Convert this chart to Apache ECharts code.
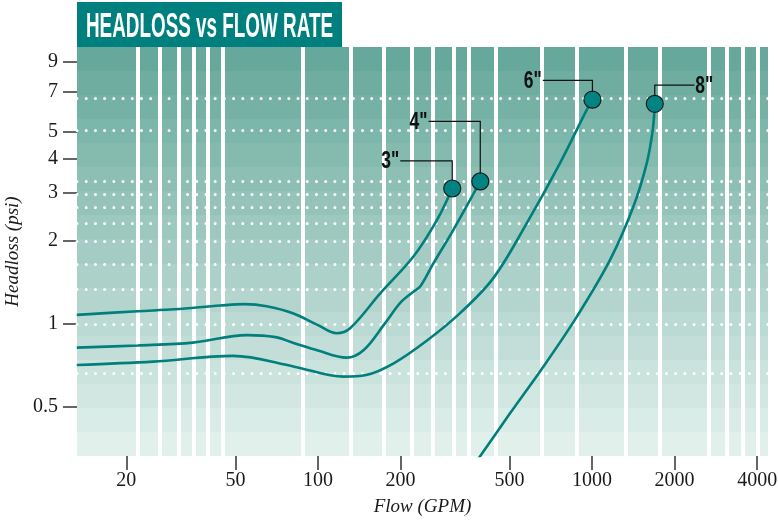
<!DOCTYPE html>
<html><head><meta charset="utf-8">
<script src="https://cdn.jsdelivr.net/npm/echarts@6.0.0/dist/echarts.min.js"></script>
<style>html,body{margin:0;padding:0;background:#fff}#main{width:778px;height:523px}</style>
</head><body><div id="main"></div>
<script>
// ---------- data ----------
const pipeSizes = ['3"', '4"', '6"', '8"'];

const flow3 = [13.2, 22, 30, 44, 54, 65, 81, 100, 117, 131, 169, 223, 272, 309];
const head3 = [1.078, 1.112, 1.13, 1.166, 1.18, 1.16, 1.094, 0.99, 0.925, 0.964, 1.293, 1.757, 2.389, 3.106];

const flow4 = [13.2, 22, 35, 55, 70, 82, 100, 127, 147, 175, 200, 223, 236, 264, 312, 391];
const head4 = [0.820, 0.835, 0.855, 0.910, 0.895, 0.851, 0.80, 0.754, 0.804, 1.0, 1.195, 1.31, 1.367, 1.663, 2.198, 3.294];

const flow6 = [13.2, 25, 49, 82, 124, 150, 189, 250, 330, 437, 578, 764, 957, 1003];
const head6 = [0.709, 0.729, 0.765, 0.699, 0.643, 0.652, 0.719, 0.87, 1.094, 1.47, 2.325, 3.842, 6.005, 6.53];

const flow8 = [370, 391, 502, 664, 880, 1163, 1415, 1583, 1665, 1693];
const head8 = [0.306, 0.331, 0.473, 0.699, 1.063, 1.709, 2.671, 3.842, 5.08, 6.31];

const xTickValues = [20, 50, 100, 200, 500, 1000, 2000, 4000];
const yTickValues = [0.5, 1, 2, 3, 4, 5, 7, 9];

const whiteGridFlows = [22.1, 26.5, 31.0, 35.2, 39.6, 45.1, 88.4, 131.7, 174.2, 220.7, 263.2, 313.1, 355.2, 444.1, 657.2, 876.6, 1322, 1770, 2663, 3106, 3552, 4006];
const dottedGridHeads = [6.6, 5.04, 3.305, 2.963, 2.649, 2.325, 1.988, 1.649, 1.344, 1.0, 0.656];

const xRange = [13.22, 4382];
const yRange = [0.331, 10.15];

const titleText = 'HEADLOSS vs FLOW RATE';
const xName = 'Flow (GPM)';
const yName = 'Headloss (psi)';

// ---------- chart ----------
const TEAL = '#007f7d';
const curves = [[flow3, head3], [flow4, head4], [flow6, head6], [flow8, head8]];
const pairs = (xs, ys) => xs.map((x, i) => [x, ys[i]]);

// stepped background bands
const nBands = 17;
const bandTop = [102, 168, 155], bandBot = [226, 240, 236];
const stops = [];
for (let i = 0; i < nBands; i++) {
  const t = i / (nBands - 1);
  const c = bandTop.map((v, k) => Math.round(v + (bandBot[k] - v) * t));
  const col = 'rgb(' + c.join(',') + ')';
  stops.push({offset: i / nBands, color: col});
  stops.push({offset: (i + 1) / nBands - 0.0001, color: col});
}

const fmt = v => String(+(+v).toPrecision(6));
const serifFont = "'Liberation Serif', 'DejaVu Serif', serif";

const markLineData = whiteGridFlows.map(v => ({
  xAxis: v, lineStyle: {color: '#ffffff', width: 4, type: 'solid', opacity: 1}
})).concat(dottedGridHeads.map(v => ({
  yAxis: v, lineStyle: {color: '#ffffff', width: 3, type: [0.01, 9.2], cap: 'round', opacity: 1}
})));

const series = curves.map((c, i) => ({
  type: 'line',
  name: pipeSizes[i],
  data: pairs(c[0], c[1]),
  smooth: 0.35,
  showSymbol: false,
  symbol: 'none',
  lineStyle: {color: TEAL, width: 2.6},
  z: 3,
  silent: true,
  animation: false
}));
series[0].markLine = {
  z: 1, silent: true, symbol: ['none', 'none'], animation: false,
  label: {show: false}, emphasis: {disabled: true},
  data: markLineData
};
series.push({
  type: 'scatter',
  data: curves.map(c => [c[0][c[0].length - 1], c[1][c[1].length - 1]]),
  symbol: 'circle',
  symbolSize: 17,
  itemStyle: {color: '#008381', borderColor: '#1b1b1b', borderWidth: 1.2, opacity: 1},
  z: 4, silent: true, animation: false
});

const option = {
  animation: false,
  backgroundColor: '#ffffff',
  grid: {
    left: 77, right: 10, top: 47, bottom: 67,
    show: true, borderWidth: 0,
    backgroundColor: {type: 'linear', x: 0, y: 0, x2: 0, y2: 1, colorStops: stops},
    containLabel: false, outerBoundsMode: 'none'
  },
  xAxis: {
    type: 'log', logBase: 10, min: xRange[0], max: xRange[1],
    name: xName, nameLocation: 'middle', nameGap: 41,
    nameTextStyle: {fontFamily: serifFont, fontStyle: 'italic', fontSize: 19, color: '#1a1a1a'},
    axisLine: {show: false},
    axisTick: {show: true, customValues: xTickValues, length: 14, lineStyle: {color: '#333', width: 1.5}},
    axisLabel: {customValues: xTickValues, formatter: fmt, margin: 15, fontFamily: serifFont, fontSize: 20, color: '#1a1a1a'},
    splitLine: {show: false}, minorTick: {show: false}, minorSplitLine: {show: false}
  },
  yAxis: {
    type: 'log', logBase: 10, min: yRange[0], max: yRange[1],
    name: yName, nameLocation: 'middle', nameGap: 42,
    nameTextStyle: {fontFamily: serifFont, fontStyle: 'italic', fontSize: 19, color: '#1a1a1a'},
    axisLine: {show: false},
    axisTick: {show: true, customValues: yTickValues, length: 14, lineStyle: {color: '#333', width: 1.5}},
    axisLabel: {customValues: yTickValues, formatter: fmt, margin: 19, fontFamily: serifFont, fontSize: 20, color: '#1a1a1a'},
    splitLine: {show: false}, minorTick: {show: false}, minorSplitLine: {show: false}
  },
  series: series
};

const chart = echarts.init(document.getElementById('main'), null, {renderer: 'canvas'});
chart.setOption(option);

// ---------- title & pipe-size callouts ----------
const mctx = document.createElement('canvas').getContext('2d');
function measure(text, font) { mctx.font = font; return mctx.measureText(text).width; }
const boldFam = "'Liberation Sans Narrow', 'Liberation Sans', 'DejaVu Sans Condensed', sans-serif";

const graphics = [];
const titleFont = 'bold 35px ' + boldFam;
graphics.push({type: 'rect', shape: {x: 77, y: 2, width: 265, height: 45}, style: {fill: '#007f7f'}, z: 10, silent: true});
graphics.push({
  type: 'text', x: 86, y: 27, scaleX: 247 / measure(titleText, titleFont), z: 11, silent: true,
  style: {text: titleText, fill: '#ffffff', font: titleFont, align: 'left', verticalAlign: 'middle'}
});

const leaders = [{dy: -27.7, dx: -52}, {dy: -60, dx: -51.7}, {dy: -19.3, dx: -49.6}, {dy: -18.7, dx: 39.6}];
const labelFont = 'bold 24px ' + boldFam;
curves.forEach((c, i) => {
  const n = c[0].length;
  const p = chart.convertToPixel({gridIndex: 0}, [c[0][n - 1], c[1][n - 1]]);
  const L = leaders[i];
  const ly = p[1] + L.dy, lx = p[0] + L.dx;
  graphics.push({
    type: 'polyline', z: 9, silent: true,
    shape: {points: [[p[0], p[1] - 8], [p[0], ly], [lx, ly]]},
    style: {stroke: '#111', lineWidth: 1.2, fill: null}
  });
  const w = measure(pipeSizes[i], labelFont);
  const sx = 18 / w;
  const right = L.dx < 0;
  graphics.push({
    type: 'text', z: 11, silent: true,
    x: right ? lx - 1 : lx + 1, y: ly + 1, scaleX: sx,
    style: {text: pipeSizes[i], fill: '#111', font: labelFont, align: right ? 'right' : 'left', verticalAlign: 'middle'}
  });
});
chart.setOption({graphic: graphics});
</script>
</body></html>
